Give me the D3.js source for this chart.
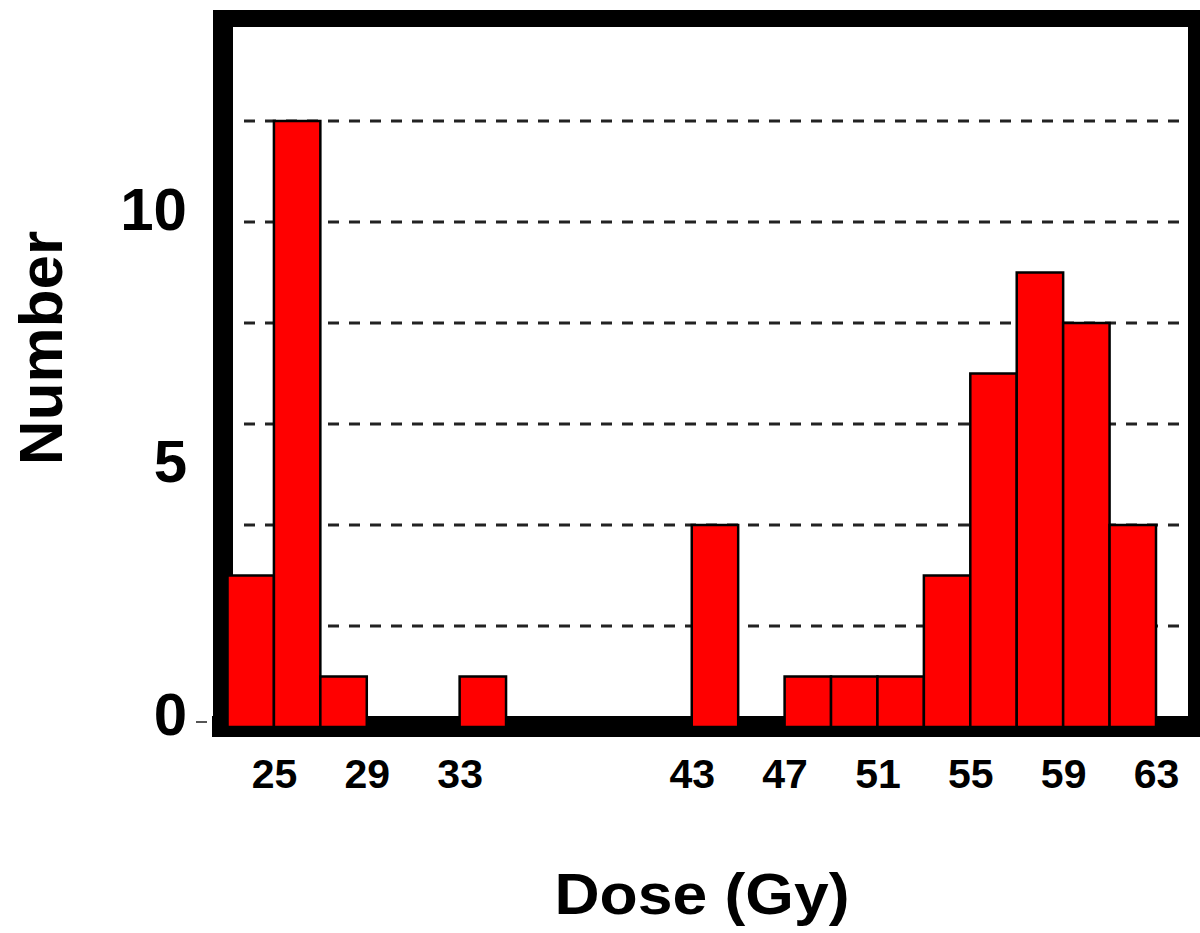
<!DOCTYPE html>
<html>
<head>
<meta charset="utf-8">
<script src="https://cdn.jsdelivr.net/npm/d3@7"></script>
<style>
  html, body { margin: 0; padding: 0; background: #fff; }
  svg { display: block; font-family: "Liberation Sans", Arial, sans-serif; font-weight: bold; }
</style>
</head>
<body>
<div id="chart"><svg></svg></div>
<script>
// histogram bins (start of each 2 Gy bin) and counts
const binStarts = [23, 25, 27, 33, 43, 47, 49, 51, 53, 55, 57, 59, 61];
const counts = [3, 12, 1, 1, 4, 1, 1, 1, 3, 7, 9, 8, 4];
const binWidth = 2;
const xTickValues = [25, 29, 33, 43, 47, 51, 55, 59, 63];
const yTickValues = [0, 5, 10];
const gridValues = [2, 4, 6, 8, 10, 12];

const width = 1200;
const height = 933;

const bins = binStarts.map((s, i) => ({ x0: s, x1: s + binWidth, n: counts[i] }));

const svg = d3.select("#chart svg")
  .attr("width", width)
  .attr("height", height);

const x = d3.scaleLinear().domain([23, 63]).range([227.5, 1156]);
const y = d3.scaleLinear().domain([0, 14]).range([727, 20]);

// dashed grid lines
svg.append("g")
  .selectAll("line")
  .data(gridValues)
  .enter()
  .append("line")
  .attr("x1", 244)
  .attr("x2", 1188)
  .attr("y1", d => y(d))
  .attr("y2", d => y(d))
  .attr("stroke", "#222")
  .attr("stroke-width", 3)
  .attr("stroke-dasharray", "11,10");

// thick frame
const frame = svg.append("g").attr("fill", "#000");
frame.append("rect").attr("x", 213).attr("y", 10).attr("width", 20).attr("height", 727);
frame.append("rect").attr("x", 213).attr("y", 10).attr("width", 987).attr("height", 17);
frame.append("rect").attr("x", 1188).attr("y", 10).attr("width", 12).attr("height", 727);
frame.append("rect").attr("x", 212).attr("y", 716).attr("width", 988).attr("height", 21);

// bars
svg.append("g")
  .selectAll("rect")
  .data(bins)
  .enter()
  .append("rect")
  .attr("x", d => x(d.x0))
  .attr("width", d => x(d.x1) - x(d.x0))
  .attr("y", d => y(d.n))
  .attr("height", d => y(0) - y(d.n))
  .attr("fill", "#ff0000")
  .attr("stroke", "#000")
  .attr("stroke-width", 2.5);

// x tick labels
const xAxis = svg.append("g")
  .attr("transform", `translate(0, ${y(0)})`)
  .call(d3.axisBottom(x).tickValues(xTickValues).tickSize(0).tickPadding(0));
xAxis.select(".domain").remove();
xAxis.selectAll("text")
  .attr("y", 61)
  .attr("dy", null)
  .attr("fill", "#000")
  .style("font-size", "41px")
  .style("font-family", "Liberation Sans, Arial, sans-serif")
  .style("font-weight", "bold");

// y tick labels
const yAxis = svg.append("g")
  .attr("transform", "translate(187, 0)")
  .call(d3.axisLeft(y).tickValues(yTickValues).tickSize(0).tickPadding(0));
yAxis.select(".domain").remove();
yAxis.selectAll("text")
  .attr("dy", "0.35em")
  .attr("y", -14)
  .attr("fill", "#000")
  .style("font-size", "60px")
  .style("font-family", "Liberation Sans, Arial, sans-serif")
  .style("font-weight", "bold");

// small tick at zero
svg.append("line")
  .attr("x1", 196)
  .attr("x2", 207)
  .attr("y1", y(0) - 5)
  .attr("y2", y(0) - 5)
  .attr("stroke", "#555")
  .attr("stroke-width", 2);

// axis titles
svg.append("text")
  .attr("transform", "translate(62, 348) rotate(-90)")
  .attr("text-anchor", "middle")
  .style("font-size", "62px")
  .text("Number");

svg.append("text")
  .attr("x", 702)
  .attr("y", 914)
  .attr("text-anchor", "middle")
  .attr("textLength", 295)
  .attr("lengthAdjust", "spacingAndGlyphs")
  .style("font-size", "57px")
  .text("Dose (Gy)");
</script>
</body>
</html>
